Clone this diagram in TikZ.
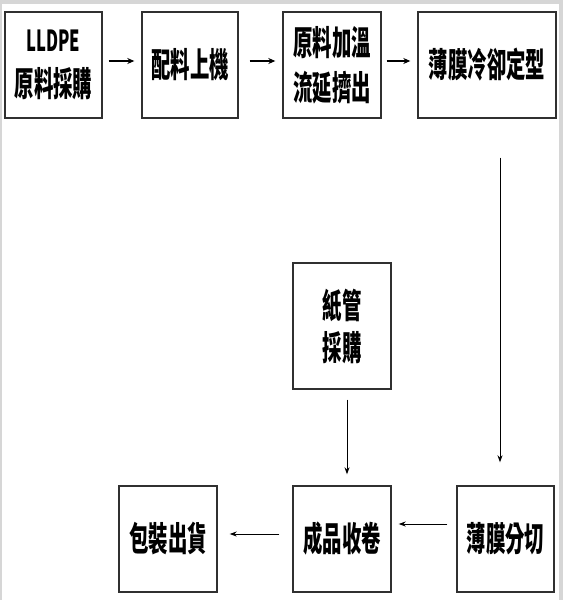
\documentclass[tikz,border=0pt]{standalone}
\usepackage{fontspec}
\newfontfamily\cjk[FakeStretch=0.57]{Noto Sans CJK TC}
\usetikzlibrary{arrows.meta}
\definecolor{framegray}{HTML}{D6D6D6}
\definecolor{boxline}{HTML}{303030}
\tikzset{
  stepbox/.style={draw=boxline, line width=1.4pt, inner sep=0pt, align=center,
    font=\cjk\bfseries\fontsize{34}{45}\selectfont},
  toparr/.style={line width=1.5pt, -{Stealth[length=7pt,width=6pt]}},
  arr/.style={line width=0.9pt, -{Stealth[length=7pt,width=5pt]}}
}
\begin{document}
\begin{tikzpicture}[x=1pt,y=-1pt]
\fill[framegray] (0,0) rectangle (563,600);
\fill[white] (1.5,3.5) rectangle (558.5,600);
\useasboundingbox (0,0) rectangle (563,600);
% top row
\node[stepbox, minimum width=97pt, minimum height=106pt] (b1) at (53.5,65) {{\fontsize{29}{45}\selectfont LLDPE}\\原料採購};
\node[stepbox, minimum width=96pt, minimum height=106pt] (b2) at (190,65) {配料上機};
\node[stepbox, minimum width=98pt, minimum height=106pt] (b3) at (332,65) {原料加溫\\流延擠出};
\node[stepbox, minimum width=138pt, minimum height=106pt] (b4) at (487,65) {薄膜冷卻定型};
% lower part
\node[stepbox, minimum width=98pt, minimum height=126pt, font=\cjk\bfseries\fontsize{34}{42}\selectfont] (b5) at (342,326) {紙管\\採購};
\node[stepbox, minimum width=98pt, minimum height=106pt] (b6) at (342,539) {成品收卷};
\node[stepbox, minimum width=98pt, minimum height=106pt] (b8) at (168,539) {包裝出貨};
\node[stepbox, minimum width=97pt, minimum height=106pt] (b7) at (505.5,539) {薄膜分切};
% connectors
\draw[toparr, shorten <=6pt, shorten >=7pt] ([yshift=4pt]b1.east) -- ([yshift=4pt]b2.west);
\draw[toparr, shorten <=11pt, shorten >=7pt] ([yshift=4pt]b2.east) -- ([yshift=4pt]b3.west);
\draw[toparr, shorten <=5pt, shorten >=7pt] ([yshift=4pt]b3.east) -- ([yshift=4pt]b4.west);
\draw[arr, shorten <=39pt, shorten >=23pt] ([xshift=13pt]b4.south) -- ([xshift=13pt]b4.south |- b7.north);
\draw[arr, shorten <=10pt, shorten >=11pt] ([xshift=5pt]b5.south) -- ([xshift=5pt]b6.north);
\draw[arr, shorten <=9pt, shorten >=7pt] ([yshift=15pt]b7.west) -- ([yshift=15pt]b6.east);
\draw[arr, shorten <=13pt, shorten >=12pt] ([yshift=5pt]b6.west) -- ([yshift=5pt]b8.east);
\end{tikzpicture}
\end{document}
